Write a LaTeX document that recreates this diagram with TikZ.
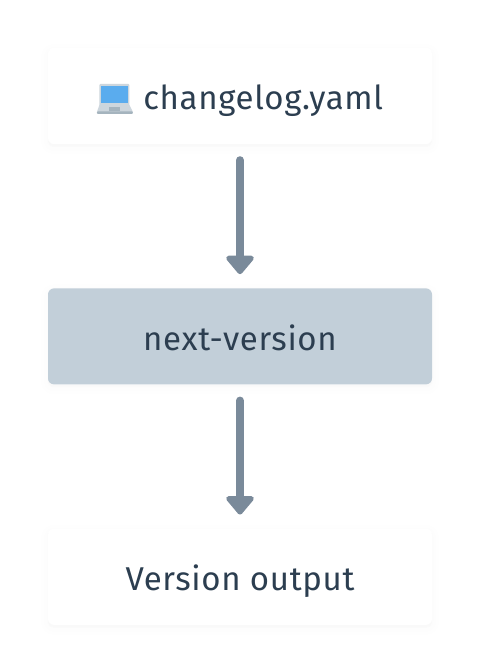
\documentclass[tikz,border=0pt]{standalone}
\usepackage{fontspec}
\setmainfont[LetterSpace=2]{Fira Sans}
\usepackage{xcolor}
\usetikzlibrary{positioning,shadows,arrows.meta}
\definecolor{InkBlue}{RGB}{44,62,80}
\definecolor{SlateFill}{RGB}{194,207,217}
\definecolor{ArrowGray}{RGB}{122,138,154}
\definecolor{ScreenBlue}{RGB}{90,172,238}
\definecolor{LaptopGray}{RGB}{205,214,221}
\definecolor{LaptopEdge}{RGB}{165,180,190}
\newcommand{\laptopicon}{\tikz[baseline=4pt,x=1pt,y=1pt,line width=0pt,sharp corners]{
    \fill[LaptopGray,rounded corners=1pt] (2.5,8) rectangle (32.5,30);
    \fill[ScreenBlue] (4,11) rectangle (31,28);
    \fill[LaptopGray] (2.5,9) -- (32.5,9) -- (36,2) -- (0,2) -- cycle;
    \fill[LaptopEdge] (12,3) rectangle (23,7);
    \fill[LaptopEdge,rounded corners=1pt] (0,0) rectangle (36,2.5);
  }}
\begin{document}
\begin{tikzpicture}[
    node distance=144pt,
    softbox/.style={
      rectangle, rounded corners=6pt, minimum width=384pt, minimum height=96pt,
      inner sep=0pt, text height=32pt, text depth=4pt, text=InkBlue,
      font=\fontsize{33}{38}\selectfont,
      general shadow={draw=black, fill=black, line width=14pt, opacity=0.004, shadow yshift=-3pt},
      general shadow={draw=black, fill=black, line width=8pt, opacity=0.004, shadow yshift=-3pt},
      general shadow={draw=black, fill=black, line width=3pt, opacity=0.005, shadow yshift=-2pt}
    },
    plainbox/.style={softbox, fill=white},
    slatebox/.style={softbox, fill=SlateFill},
    arr/.style={-{Triangle[length=20pt, width=32pt, round]}, line width=8pt, draw=ArrowGray,
      line cap=round, shorten <=16pt, shorten >=14pt}
  ]
    \useasboundingbox (0,0) rectangle (480pt,672pt);

    \node[plainbox] (source) at (240pt,576pt) {\laptopicon\hspace{1pt}\ changelog.yaml};
    \node[slatebox, below=of source] (tool) {next-version};
    \node[plainbox, below=of tool] (result) {Version output};

    \draw[arr] (source) -- (tool);
    \draw[arr] (tool) -- (result);
  \end{tikzpicture}
\end{document}
